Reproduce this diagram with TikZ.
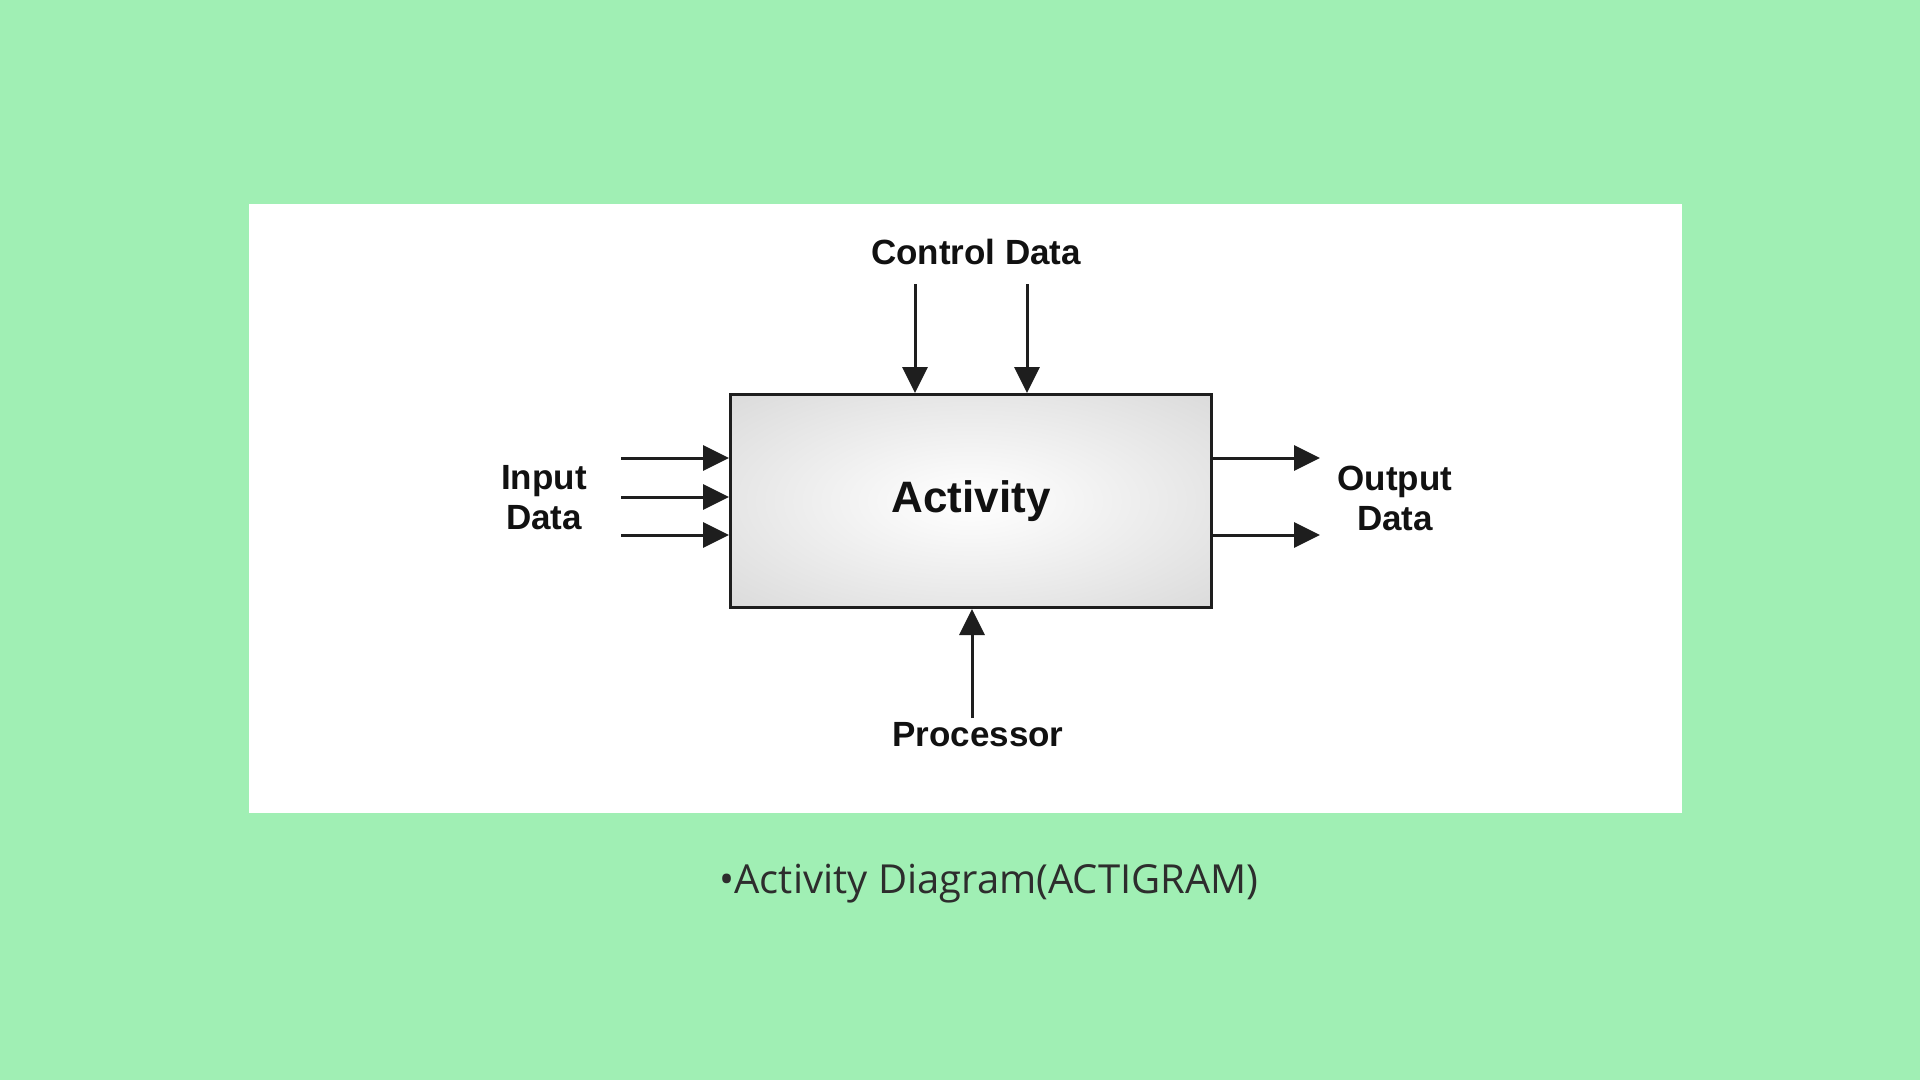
\documentclass[tikz,border=0pt]{standalone}
\usepackage{fontspec}
\setmainfont{Liberation Sans}
\newfontfamily\captionfont{Open Sans}
\usetikzlibrary{arrows.meta,positioning}
\definecolor{bggreen}{RGB}{160,239,180}
\definecolor{boxedge}{RGB}{204,204,204}
\definecolor{linegray}{RGB}{30,30,30}
\definecolor{textblack}{RGB}{17,17,17}
\definecolor{captiongray}{RGB}{45,45,45}
\pgfdeclareradialshading{boxglow}{\pgfpoint{0bp}{0bp}}{color(0bp)=(white); color(8bp)=(white!97!black); color(50bp)=(boxedge); color(72bp)=(boxedge)}

\begin{document}
\begin{tikzpicture}[x=1pt, y=-1pt,
  flow/.style={line width=3pt, draw=linegray, -{Triangle[length=26pt,width=25pt]}},
  lbl/.style={text=textblack, font=\bfseries\fontsize{35}{40}\selectfont, align=center, inner sep=0pt}]
\fill [bggreen] (0,0) rectangle (1920,1080);
\fill [white] (249,204) rectangle (1682,813);

\node (act) [draw=linegray, line width=3pt, shading=boxglow, minimum width=481pt, minimum height=213pt, text=textblack, font=\bfseries\fontsize{44}{44}\selectfont] at (971,501) {Activity};

% control data
\node (ctrl) [lbl] at (976,252) {Control Data};
\coordinate (c1) at (915,284);
\coordinate (c2) at (1027,284);
\draw [flow] (c1) -- (c1 |- act.north);
\draw [flow] (c2) -- (c2 |- act.north);

% input data
\node (inp) [lbl] at (544,498) {Input\\Data};
\foreach \y [count=\i] in {458,497,535} {
  \coordinate (in\i) at (621,\y);
  \draw [flow] (in\i) -- (in\i -| act.west);
}

% output data
\node (outp) [lbl] at (1395,498) {Output\\Data};
\foreach \y [count=\i] in {458,535} {
  \coordinate (out\i) at (1320,\y);
  \draw [flow] (out\i -| act.east) -- (out\i);
}

% processor
\node (proc) [lbl] at (978,735) {Processor};
\coordinate (p1) at (972,718);
\draw [flow] (p1) -- (p1 |- act.south);

\node (cap) [text=captiongray, font=\captionfont\fontsize{40}{40}\selectfont, inner sep=0pt] at (989,884) {•Activity Diagram(ACTIGRAM)};
\end{tikzpicture}
\end{document}
